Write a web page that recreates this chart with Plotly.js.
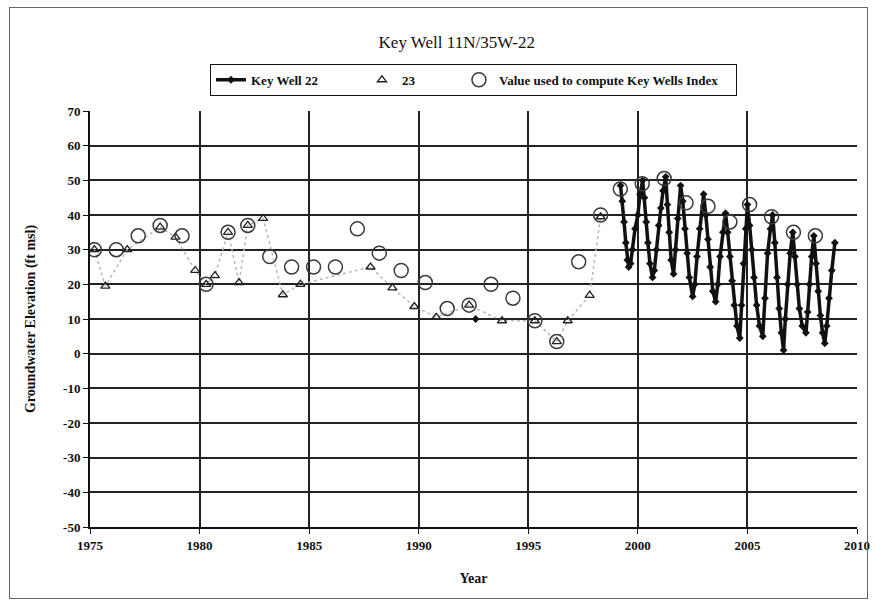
<!DOCTYPE html>
<html>
<head>
<meta charset="utf-8">
<script src="https://cdn.plot.ly/plotly-3.0.1.min.js"></script>
<style>
  html, body { margin: 0; padding: 0; background: #ffffff; }
  #chart { width: 875px; height: 605px; position: relative; }
  #frame { position: absolute; left: 9px; top: 7px; width: 857px; height: 590px; border: 1px solid #666; pointer-events: none; }
</style>
</head>
<body>
<div id="chart"></div>
<div id="frame"></div>
<script>
// ---- Data ----
// "Value used to compute Key Wells Index" (open circles)
const indexYears = [1975.2, 1976.2, 1977.2, 1978.2, 1979.2, 1980.3, 1981.3, 1982.2, 1983.2, 1984.2,
  1985.2, 1986.2, 1987.2, 1988.2, 1989.2, 1990.3, 1991.3, 1992.3, 1993.3, 1994.3,
  1995.3, 1996.3, 1997.3, 1998.3, 1999.2, 2000.2, 2001.2, 2002.2, 2003.2, 2004.2,
  2005.1, 2006.1, 2007.1, 2008.1];
const indexValues = [30, 30, 34, 37, 34, 20, 35, 37, 28, 25,
  25, 25, 36, 29, 24, 20.5, 13, 14, 20, 16,
  9.5, 3.5, 26.5, 40, 47.5, 49, 50.5, 43.5, 42.5, 38,
  43, 39.5, 35, 34];

// Well 23 (open triangles)
const well23Years = [1975.2, 1975.7, 1976.7, 1978.2, 1978.9, 1979.8, 1980.3, 1980.7, 1981.3, 1981.8,
  1982.2, 1982.9, 1983.8, 1984.6, 1987.8, 1988.8, 1989.8, 1990.8, 1992.3, 1993.8,
  1995.3, 1996.3, 1996.8, 1997.8, 1998.3];
const well23Values = [30, 19.5, 30, 36.5, 33.6, 24, 20, 22.5, 35, 20.5,
  37, 39, 17, 20, 25, 19, 13.6, 10.5, 14, 9.5,
  9.5, 3.5, 9.5, 16.8, 39.5];

// Key Well 22 (black line with diamonds); null marks a gap in the record
const kw22Years = [1992.6, 1996.0,
  1999.21, 1999.29, 1999.37, 1999.45, 1999.52, 1999.58, 1999.67, 1999.75, 1999.87,
  2000.0, 2000.1, 2000.22, 2000.3, 2000.38, 2000.46, 2000.55, 2000.67, 2000.75, 2000.85, 2000.95,
  2001.05, 2001.15, 2001.27, 2001.35, 2001.43, 2001.52, 2001.63, 2001.72, 2001.82, 2001.95,
  2002.05, 2002.15, 2002.25, 2002.35, 2002.5, 2002.6, 2002.7, 2002.82,
  2003.0, 2003.1, 2003.2, 2003.3, 2003.42, 2003.55, 2003.65, 2003.75, 2003.88,
  2004.0, 2004.1, 2004.2, 2004.3, 2004.4, 2004.52, 2004.65, 2004.73, 2004.82, 2004.92,
  2005.0, 2005.1, 2005.2, 2005.3, 2005.42, 2005.55, 2005.7, 2005.8, 2005.92,
  2006.05, 2006.15, 2006.25, 2006.35, 2006.45, 2006.55, 2006.65, 2006.73, 2006.83, 2006.95,
  2007.07, 2007.17, 2007.27, 2007.37, 2007.5, 2007.67, 2007.75, 2007.83, 2007.93,
  2008.03, 2008.13, 2008.23, 2008.33, 2008.43, 2008.53, 2008.62, 2008.72, 2008.85, 2008.99];
const kw22Values = [10, null,
  48.5, 44, 38, 32, 27, 25, 26, 30, 36,
  40, 46, 50, 45, 38, 32, 26, 22, 24, 30, 37,
  42, 47, 51, 43, 35, 27, 23, 30, 39, 48.5,
  44, 36, 29, 22, 16.5, 20, 28, 36,
  46, 40, 33, 25, 18, 15, 20, 28, 35,
  40.5, 35, 28, 21, 14, 8, 4.5, 14, 26, 36,
  43, 37, 30, 22, 14, 8, 5, 16, 29,
  36, 40, 32, 22, 13, 6, 1, 10, 20, 29,
  35, 28, 20, 13, 8, 6, 12, 20, 28,
  34, 26, 18, 11, 6, 3, 8, 16, 24, 32];

const xTicks = [1975, 1980, 1985, 1990, 1995, 2000, 2005, 2010];
const yTicks = [70, 60, 50, 40, 30, 20, 10, 0, -10, -20, -30, -40, -50];

const seriesNames = ['Key Well 22', '23', 'Value used to compute Key Wells Index'];

const serif = 'Liberation Serif, Times New Roman, serif';
const pad = n => '\u00a0'.repeat(n);

const traces = [
  {
    x: well23Years, y: well23Values, type: 'scatter', mode: 'lines',
    line: { color: '#b8b8b8', width: 1.5, dash: 'dot' },
    showlegend: false, hoverinfo: 'skip'
  },
  {
    x: kw22Years, y: kw22Values, type: 'scatter', mode: 'lines+markers',
    name: seriesNames[0] + pad(12), connectgaps: false,
    line: { color: '#111111', width: 3.5 },
    marker: { symbol: 'diamond', size: 6, color: '#111111' }
  },
  {
    x: well23Years, y: well23Values, type: 'scatter', mode: 'markers',
    name: seriesNames[1] + pad(12),
    marker: { symbol: 'triangle-up-open', size: 8, color: '#222222', line: { width: 1.3 } }
  },
  {
    x: indexYears, y: indexValues, type: 'scatter', mode: 'markers',
    name: seriesNames[2] + pad(4),
    marker: { symbol: 'circle-open', size: 14, color: '#3a3a3a', line: { width: 1.5 } }
  }
];

const layout = {
  width: 875, height: 605,
  paper_bgcolor: '#ffffff', plot_bgcolor: '#ffffff',
  margin: { l: 90, r: 18, t: 111, b: 78 },
  font: { family: serif, color: '#111111' },
  title: {
    text: 'Key Well 11N/35W-22',
    font: { family: serif, size: 17, color: '#111111' },
    x: 0.522, xanchor: 'center', y: 0.93, yanchor: 'middle'
  },
  showlegend: true,
  legend: {
    orientation: 'h', x: 0.5, xanchor: 'center', y: 1.075, yanchor: 'middle',
    bgcolor: '#ffffff', bordercolor: '#111111', borderwidth: 1,
    font: { family: serif, size: 13, color: '#111111', weight: 'bold' },
    itemwidth: 30, traceorder: 'normal'
  },
  xaxis: {
    range: [1975, 2010], tickvals: xTicks, ticktext: xTicks.map(String),
    showgrid: true, gridcolor: '#222222', gridwidth: 2,
    showline: true, linecolor: '#111111', linewidth: 2,
    ticks: 'outside', ticklen: 5, tickcolor: '#111111',
    tickfont: { family: serif, size: 13, weight: 'bold', color: '#111111' },
    zeroline: false,
    title: { text: 'Year', font: { family: serif, size: 14, weight: 'bold', color: '#111111' }, standoff: 22 }
  },
  yaxis: {
    range: [-50, 70], tickvals: yTicks, ticktext: yTicks.map(String),
    showgrid: true, gridcolor: '#222222', gridwidth: 2,
    showline: true, linecolor: '#111111', linewidth: 2,
    ticks: 'outside', ticklen: 5, tickcolor: '#111111',
    tickfont: { family: serif, size: 13, weight: 'bold', color: '#111111' },
    zeroline: false,
    title: { text: 'Groundwater Elevation (ft msl)', font: { family: serif, size: 14, weight: 'bold', color: '#111111' }, standoff: 24 }
  }
};

Plotly.newPlot('chart', traces, layout, { displayModeBar: false, staticPlot: true });
</script>
</body>
</html>
